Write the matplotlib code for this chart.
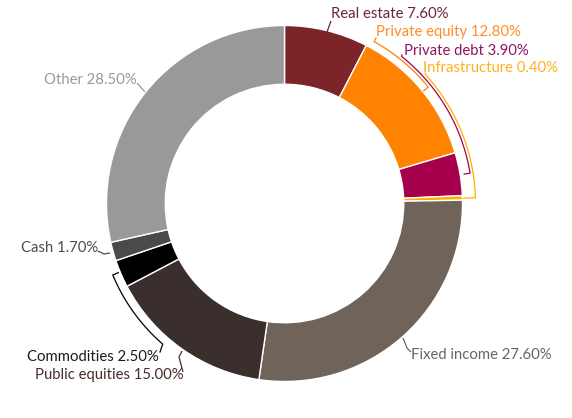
import numpy as np
import matplotlib
matplotlib.use("Agg")
import matplotlib.pyplot as plt

plt.rcParams['font.family'] = ['Lato', 'DejaVu Sans']

# data
labels = ["Real estate", "Private equity", "Private debt", "Infrastructure",
          "Fixed income", "Public equities", "Commodities", "Cash", "Other"]
shares = [7.6, 12.8, 3.9, 0.4, 27.6, 15.0, 2.5, 1.7, 28.5]
colors = ["#7b2528", "#ff8300", "#a6004c", "#f9b000",
          "#6f635a", "#3a2f2d", "#000000", "#4a4a4a", "#999999"]
text_colors = ["#6b2537", "#ff8c29", "#8f1560", "#ffb020",
               "#6f635a", "#4a2c2c", "#1a1a1a", "#4d4d4d", "#999999"]

W, H = 572, 418
cx, cy, R = 284.5, 203.5, 178.0


def px(x, y):
    # pixel position -> data coords (pie radius = 1)
    return (x - cx) / R, (cy - y) / R


fig = plt.figure(figsize=(W / 100, H / 100), dpi=100)
ax = fig.add_axes([0, 0, 1, 1])
ax.pie(shares, colors=colors, startangle=90, counterclock=False, radius=1,
       wedgeprops=dict(width=0.33, edgecolor="white", linewidth=1))
ax.set_aspect("auto")
ax.set_xlim(-cx / R, (W - cx) / R)
ax.set_ylim(-(H - cy) / R, cy / R)
ax.axis("off")

# labels: (pixel x, pixel y, alignment)
pos = {
    "Real estate": (331, 14, "left"),
    "Private equity": (376, 32, "left"),
    "Private debt": (404, 51, "left"),
    "Infrastructure": (423, 68, "left"),
    "Fixed income": (411, 355, "left"),
    "Public equities": (184, 375, "right"),
    "Commodities": (159, 357, "right"),
    "Cash": (98, 248, "right"),
    "Other": (137, 80, "right"),
}
for lab, val, tc in zip(labels, shares, text_colors):
    x, y, ha = pos[lab]
    ax.text(*px(x, y), f"{lab} {val:.2f}%", color=tc, fontsize=10.7,
            ha=ha, va="center")


def polyline(points, color):
    xs, ys = zip(*[px(x, y) for x, y in points])
    ax.plot(xs, ys, color=color, lw=0.9, solid_capstyle="butt")


def bracket(a1, a2, r, color, start=None, end=None, tick=6):
    t = np.radians(np.linspace(a1, a2, 60))
    rr = r / R
    xs = list(rr * np.cos(t))
    ys = list(rr * np.sin(t))
    if start is not None:
        sx, sy = px(*start)
        xs.insert(0, sx)
        ys.insert(0, sy)
    else:
        ri = (r - tick) / R
        xs.insert(0, ri * np.cos(t[0]))
        ys.insert(0, ri * np.sin(t[0]))
    if end is not None:
        ex, ey = px(*end)
        xs.append(ex)
        ys.append(ey)
    else:
        ri = (r - tick) / R
        xs.append(ri * np.cos(t[-1]))
        ys.append(ri * np.sin(t[-1]))
    ax.plot(xs, ys, color=color, lw=0.9)


# simple leaders
polyline([(327, 32), (331, 21)], "#6b2537")
polyline([(403, 338), (407, 348), (411, 352)], "#6f635a")
polyline([(182, 351), (179, 357), (183, 372)], "#4a2c2c")
polyline([(98, 251), (104, 254), (110, 253)], "#4d4d4d")
polyline([(137, 83), (145, 92)], "#999999")

# bracket leaders
bracket(61, 39, 185, "#ff8300", start=(376, 38))
bracket(51.5, 9.3, 188, "#a6004c", start=(402, 55))
bracket(42.2, 1.7, 191, "#ffb000", start=(425, 73), tick=12)
bracket(202.6, 229.1, 186, "#000000", end=(160, 352))

fig.savefig("out.png", dpi=100)
